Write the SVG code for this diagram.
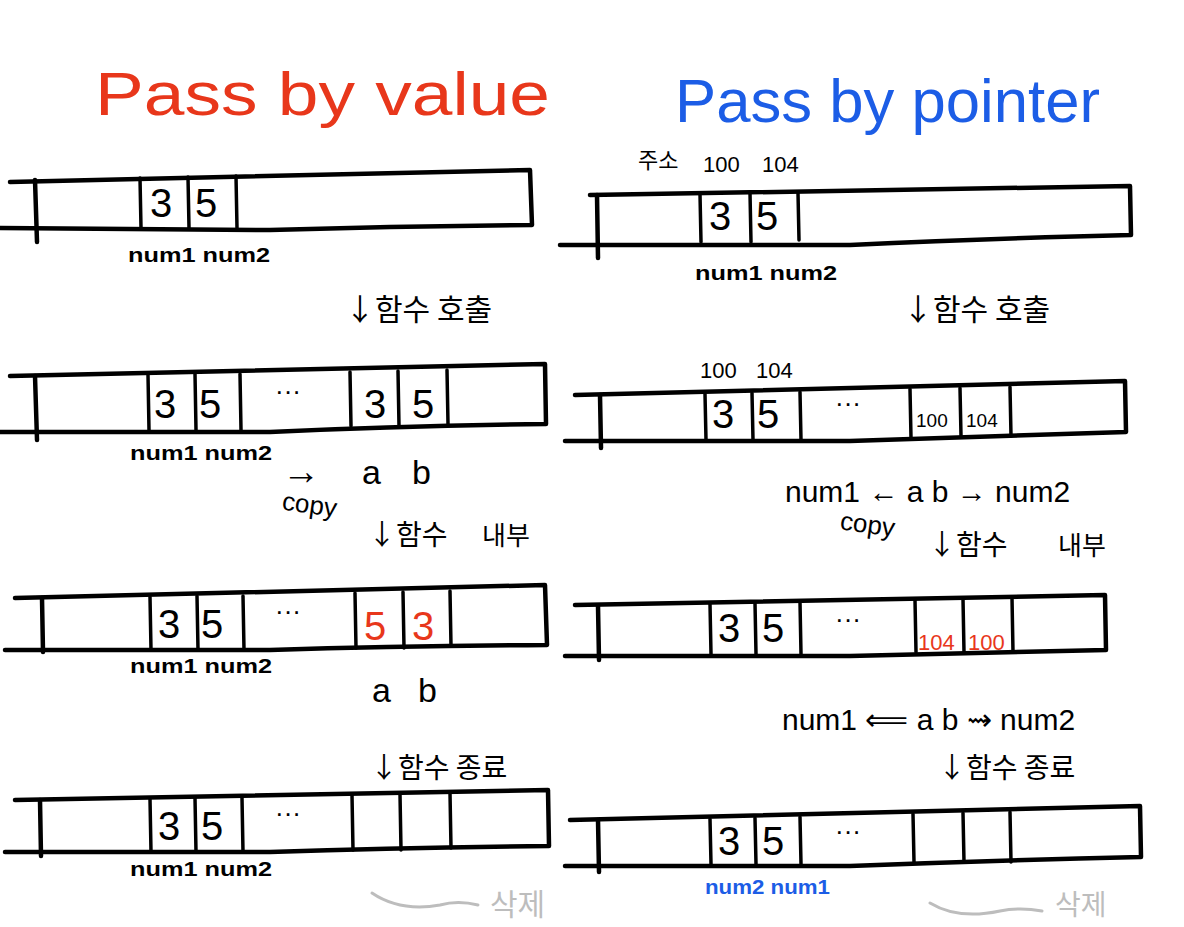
<svg xmlns="http://www.w3.org/2000/svg" width="1184" height="927" viewBox="0 0 1184 927">
<style>
.bar{fill:none;stroke:#000;stroke-width:4.5;stroke-linecap:round;stroke-linejoin:round}
.cell{fill:none;stroke:#000;stroke-width:3.5;stroke-linecap:round}
.t{font-family:"Liberation Sans","Noto Sans CJK KR",sans-serif;fill:#000}
.k{font-family:"Noto Sans CJK KR","Liberation Sans",sans-serif;fill:#000}
.num{font-size:40px}
.lbl{font-size:21px;font-weight:bold}
.red{fill:#e8371b}
.blue{fill:#1c5de6}
.gray{fill:#bdbdbd}
.arr{fill:none;stroke:#bdbdbd;stroke-width:3;stroke-linecap:round}
</style>
<rect width="1184" height="927" fill="#fff"/>

<g id="title-left"><text class="t red" x="95" y="115" font-size="62" textLength="455" lengthAdjust="spacingAndGlyphs">Pass by value</text></g>
<g id="title-right"><text class="t blue" x="675" y="122" font-size="62" textLength="425" lengthAdjust="spacingAndGlyphs">Pass by pointer</text></g>

<!-- LEFT COLUMN -->
<g id="L1">
<path class="bar" d="M10 182 L530 170 L532 225 Q400 226 270 230 L0 228"/>
<path class="bar" d="M35 180 L37 242"/>
<path class="cell" d="M140 178 L141 228 M188 177 L189 228 M236 176 L237 228"/>
<text class="t num" x="150" y="217">3</text><text class="t num" x="195" y="217">5</text>
<text class="t lbl" x="128" y="262" textLength="142" lengthAdjust="spacingAndGlyphs">num1 num2</text>
</g>
<g id="L-step2"><text class="k" x="345" y="320" font-size="30">↓함수 호출</text></g>
<g id="L2">
<path class="bar" d="M10 376 L545 364 L546 424 Q400 426 270 432 L0 432"/>
<path class="bar" d="M35 376 L37 440"/>
<path class="cell" d="M148 375 L149 430 M195 374 L196 430 M240 374 L241 430 M350 372 L351 426 M398 371 L399 426 M447 370 L448 424"/>
<text class="t num" x="154" y="418">3</text><text class="t num" x="199" y="418">5</text>
<text class="t" x="275" y="400" font-size="26">···</text>
<text class="t num" x="364" y="418">3</text><text class="t num" x="412" y="418">5</text>
<text class="t lbl" x="130" y="460" textLength="142" lengthAdjust="spacingAndGlyphs">num1 num2</text>
</g>
<g id="L-step3">
<text class="t" x="282" y="484" font-size="38">→</text>
<text class="t" x="362" y="484" font-size="34">a</text>
<text class="t" x="412" y="484" font-size="34">b</text>
<text class="t" x="282" y="512" font-size="26" transform="rotate(8 300 505)">copy</text>
<text class="k" x="368" y="545" font-size="28">↓함수</text>
<text class="k" x="482" y="545" font-size="26">내부</text>
</g>
<g id="L3">
<path class="bar" d="M15 598 L545 585 L547 645 Q400 646 270 650 L5 650"/>
<path class="bar" d="M42 598 L43 652"/>
<path class="cell" d="M150 597 L151 650 M197 596 L198 650 M243 596 L244 650 M355 593 L356 648 M403 592 L404 648 M450 591 L451 646"/>
<text class="t num" x="158" y="638">3</text><text class="t num" x="201" y="638">5</text>
<text class="t" x="275" y="620" font-size="26">···</text>
<text class="t num red" x="364" y="640">5</text><text class="t num red" x="412" y="640">3</text>
<text class="t lbl" x="130" y="673" textLength="142" lengthAdjust="spacingAndGlyphs">num1 num2</text>
</g>
<g id="L-step4">
<text class="t" x="372" y="702" font-size="34">a</text>
<text class="t" x="418" y="702" font-size="34">b</text>
<text class="k" x="370" y="778" font-size="28">↓함수 종료</text>
</g>
<g id="L4">
<path class="bar" d="M15 800 L548 790 L549 846 Q400 848 270 852 L5 852"/>
<path class="bar" d="M40 800 L41 856"/>
<path class="cell" d="M150 799 L151 852 M195 798 L196 852 M242 798 L243 852 M352 795 L353 850 M400 794 L401 850 M450 793 L451 848"/>
<text class="t num" x="158" y="840">3</text><text class="t num" x="201" y="840">5</text>
<text class="t" x="275" y="822" font-size="26">···</text>
<text class="t lbl" x="130" y="876" textLength="142" lengthAdjust="spacingAndGlyphs">num1 num2</text>
<text class="k gray" x="490" y="915" font-size="30">삭제</text>
</g>

<!-- RIGHT COLUMN -->
<g id="R1">
<text class="k" x="638" y="168" font-size="22">주소</text>
<text class="t" x="703" y="172" font-size="22">100</text>
<text class="t" x="762" y="172" font-size="22">104</text>
<path class="bar" d="M590 195 L1130 186 L1131 235 Q1000 238 850 245 L560 245"/>
<path class="bar" d="M597 195 L598 258"/>
<path class="cell" d="M700 194 L701 242 M750 193 L751 242 M798 193 L799 240"/>
<text class="t num" x="709" y="230">3</text><text class="t num" x="756" y="230">5</text>
<text class="t lbl" x="695" y="280" textLength="142" lengthAdjust="spacingAndGlyphs">num1 num2</text>
</g>
<g id="R-step2"><text class="k" x="903" y="320" font-size="30">↓함수 호출</text></g>
<g id="R2">
<text class="t" x="700" y="378" font-size="22">100</text>
<text class="t" x="756" y="378" font-size="22">104</text>
<path class="bar" d="M575 395 L1125 381 L1126 432 Q1000 436 850 441 L565 441"/>
<path class="bar" d="M600 395 L601 448"/>
<path class="cell" d="M705 394 L706 440 M752 393 L753 440 M800 392 L801 440 M910 389 L911 438 M960 388 L961 436 M1010 387 L1011 436"/>
<text class="t num" x="712" y="428">3</text><text class="t num" x="757" y="428">5</text>
<text class="t" x="835" y="412" font-size="26">···</text>
<text class="t" x="916" y="427" font-size="19">100</text>
<text class="t" x="966" y="427" font-size="19">104</text>
</g>
<g id="R-step3">
<text class="t" x="785" y="502" font-size="30">num1 ← a  b → num2</text>
<text class="t" x="840" y="532" font-size="26" transform="rotate(8 860 525)">copy</text>
<text class="k" x="928" y="555" font-size="28">↓함수</text>
<text class="k" x="1058" y="555" font-size="26">내부</text>
</g>
<g id="R3">
<path class="bar" d="M575 605 L1105 595 L1106 650 Q1000 652 850 656 L565 656"/>
<path class="bar" d="M598 606 L599 660"/>
<path class="cell" d="M710 604 L711 654 M755 603 L756 654 M800 602 L801 654 M915 600 L916 652 M963 599 L964 652 M1012 598 L1013 652"/>
<text class="t num" x="718" y="642">3</text><text class="t num" x="762" y="642">5</text>
<text class="t" x="835" y="628" font-size="26">···</text>
<text class="t red" x="918" y="650" font-size="22">104</text>
<text class="t red" x="968" y="650" font-size="22">100</text>
</g>
<g id="R-step4">
<text class="t" x="782" y="730" font-size="30">num1 ⟸  a  b ⇝ num2</text>
<text class="k" x="938" y="778" font-size="28">↓함수 종료</text>
</g>
<g id="R4">
<path class="bar" d="M570 820 L1140 806 L1141 857 Q1000 860 850 866 L565 866"/>
<path class="bar" d="M598 820 L599 872"/>
<path class="cell" d="M710 819 L711 864 M755 818 L756 864 M800 817 L801 864 M913 814 L914 862 M963 813 L964 862 M1010 812 L1011 862"/>
<text class="t num" x="718" y="855">3</text><text class="t num" x="762" y="855">5</text>
<text class="t" x="835" y="840" font-size="26">···</text>
<text class="t lbl blue" x="705" y="894" textLength="125" lengthAdjust="spacingAndGlyphs">num2 num1</text>
<text class="k gray" x="1055" y="915" font-size="28">삭제</text>
</g>

<g id="connectors">
<path class="arr" d="M372 893 Q400 912 440 905 Q458 900 478 905"/>
<path class="arr" d="M930 903 Q958 920 1000 911 Q1020 907 1042 911"/>
</g>
</svg>
